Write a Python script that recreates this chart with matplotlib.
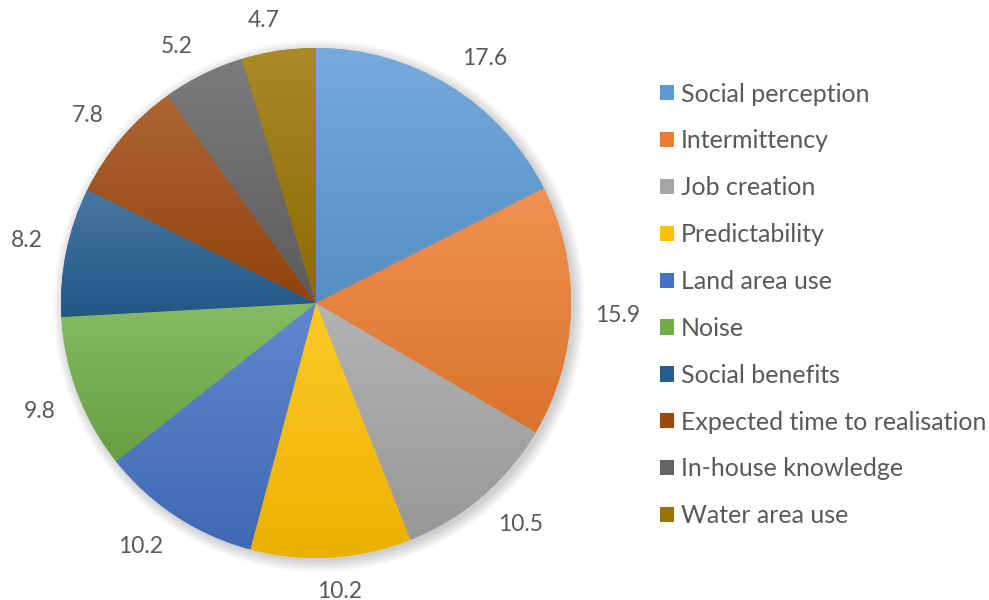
import numpy as np
import matplotlib.pyplot as plt
from matplotlib.patches import Patch, Circle
from matplotlib.colors import to_rgb

# share of each factor (percent)
factors = ['Social perception', 'Intermittency', 'Job creation', 'Predictability',
           'Land area use', 'Noise', 'Social benefits', 'Expected time to realisation',
           'In-house knowledge', 'Water area use']
shares = [17.6, 15.9, 10.5, 10.2, 10.2, 9.8, 8.2, 7.8, 5.2, 4.7]
colors = ['#5B9BD5', '#ED7D31', '#A5A5A5', '#FFC000', '#4472C4',
          '#70AD47', '#255E91', '#9E480E', '#636363', '#997300']

W, H = 989, 600
cx, cy, r = 316, 297, 255   # pie centre / radius in pixels (from bottom)

plt.rcParams['font.family'] = ['Lato', 'DejaVu Sans']
fig = plt.figure(figsize=(W / 100, H / 100), dpi=100)
ax = fig.add_axes([0, 0, 1, 1])

label_size = 16.5
wedges, texts = ax.pie(shares, colors=colors, startangle=90, counterclock=False,
                       labels=[str(v) for v in shares], labeldistance=1.1,
                       wedgeprops=dict(linewidth=0, zorder=2),
                       textprops=dict(fontsize=label_size, color='#595959'))

# soft drop shadow behind the pie
for k in range(8):
    ax.add_patch(Circle((0.012, -0.012), 1 + 0.006 * k, color='k',
                        alpha=0.025, lw=0, zorder=1))

# vertical gradient on every wedge, lighter at the top
ramp = np.linspace(0, 1, 200)[:, None]
for w, c in zip(wedges, colors):
    c = np.array(to_rgb(c))
    top = c + (1 - c) * 0.16
    bot = c * 0.92
    img = top[None, None, :] * (1 - ramp[:, :, None]) + bot[None, None, :] * ramp[:, :, None]
    ext = w.get_path().transformed(w.get_patch_transform()).get_extents()
    im = ax.imshow(img, extent=(ext.x0, ext.x1, ext.y0, ext.y1), origin='upper',
                   aspect='auto', zorder=3, interpolation='bilinear')
    im.set_clip_path(w)

ax.set_xlim(-cx / r, (W - cx) / r)
ax.set_ylim(-cy / r, (H - cy) / r)
ax.set_aspect('auto')
ax.axis('off')

# value labels: the box corner nearest the pie sits on the wedge's mid ray,
# a fixed distance outside the rim
fig.canvas.draw()
renderer = fig.canvas.get_renderer()
rim = r + 24
cap = 0.72 * label_size * 100 / 72
for w, t in zip(wedges, texts):
    ang = np.deg2rad((w.theta1 + w.theta2) / 2)
    bw = t.get_window_extent(renderer).width
    sx = np.clip(np.cos(ang) / 0.2, -1, 1)
    sy = np.clip(np.sin(ang) / 0.2, -1, 1)
    px = rim * np.cos(ang) + sx * bw / 2
    py = rim * np.sin(ang) + sy * cap / 2 - cap / 2
    t.set_position((px / r, py / r))
    t.set_ha('center')
    t.set_va('baseline')

handles = [Patch(facecolor=c, edgecolor='none') for c in colors]
fig.legend(handles, factors, loc='upper left', bbox_to_anchor=(637 / W, 1 - 60 / H),
           frameon=False, fontsize=18, labelcolor='#595959', handlelength=0.56,
           handleheight=0.56, handletextpad=0.3, labelspacing=0.955)

fig.savefig('out.png', dpi=100)
